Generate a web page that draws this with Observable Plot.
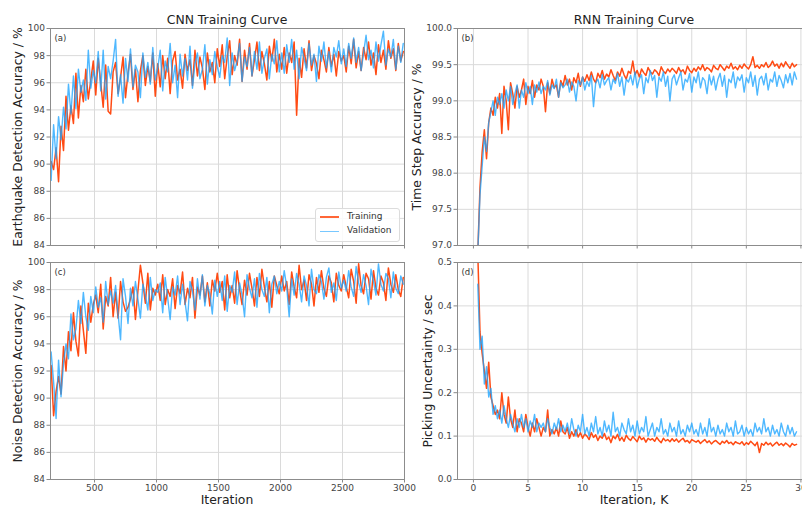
<!DOCTYPE html>
<html>
<head>
<meta charset="utf-8">
<script src="https://cdn.jsdelivr.net/npm/d3@7"></script>
<script src="https://cdn.jsdelivr.net/npm/@observablehq/plot@0.6"></script>
<style>
  html, body { margin: 0; padding: 0; background: #fff; overflow: hidden; }
  #root { position: relative; width: 802px; height: 507px; overflow: hidden; font-family: "DejaVu Sans", sans-serif; background: #fff; }
  .lbl { position: absolute; white-space: nowrap; color: #222; line-height: 1; transform: translate(-50%, -50%); }
  .rot { transform: translate(-50%, -50%) rotate(-90deg); }
  #legend { position: absolute; left: 315px; top: 208px; width: 85px; height: 34px; box-sizing: border-box;
            border: 1px solid #dcdcdc; border-radius: 3px; background: rgba(255,255,255,0.85); font-size: 9px; color: #333; }
  #legend .row { position: absolute; left: 0; height: 0; }
  #legend .sw { position: absolute; left: 4px; top: -1px; width: 19px; height: 1.8px; }
  #legend .tx { position: absolute; left: 31px; top: -5.5px; line-height: 1; white-space: nowrap; }
</style>
</head>
<body>
<div id="root"></div>
<script>
// ---------------- data ----------------
// CNN: iterations (x) sampled every 20 iterations from 150
const cnnIterStart = 150, cnnIterStep = 20, cnnIterCount = 143;
// RNN: iterations in thousands, every 0.2 K from 0.4 K
const rnnIterStart = 0.4, rnnIterStep = 0.2, rnnIterCount = 147;

// (a) Earthquake detection accuracy, %
const cnnEqTrain = [
  90.2, 89.6, 91.2, 88.7, 92.8, 91.0, 95.0, 92.5, 94.3, 93.0, 96.7, 93.4, 95.8, 94.6, 97.0, 94.8, 96.2, 97.6,
  95.1, 97.8, 96.0, 94.2, 97.3, 93.9, 93.7, 96.8, 97.5, 95.2, 96.4, 97.9, 94.9, 96.7, 98.1, 95.5, 97.0, 94.6, 96.9, 98.0, 95.8, 97.2, 96.1, 98.2, 95.0,
  97.4, 95.7, 98.0, 96.3, 97.8, 95.2, 97.6, 98.3, 96.2, 97.0, 95.6, 98.1, 96.9, 97.7, 95.8, 98.4, 96.5, 97.9, 97.1, 95.5, 98.2, 96.8, 97.5, 96.0, 98.5,
  97.2, 98.8, 96.3, 97.9, 99.1, 96.6, 98.0, 97.3, 99.2, 96.1, 98.4, 97.0, 98.9, 96.5, 97.7, 99.0, 96.9, 98.3, 97.4, 96.2, 98.7, 97.6, 99.2, 96.8, 98.1,
  97.0, 98.6, 96.7, 98.2, 97.5, 99.0, 93.6, 97.8, 96.4, 98.5, 97.1, 99.1, 96.9, 98.0, 97.4, 96.3, 98.4, 97.7, 96.8, 98.6, 97.2, 98.1, 96.5, 98.3, 97.6,
  98.0, 96.8, 98.7, 97.4, 99.2, 97.1, 98.3, 96.9, 98.6, 97.7, 99.0, 97.3, 98.2, 96.6, 98.8, 97.5, 98.4, 97.0, 99.1, 97.8, 98.5, 96.9, 98.9, 97.6, 98.3
];
const cnnEqValid = [
  88.8, 92.9, 90.4, 93.5, 91.8, 94.2, 92.6, 95.9, 93.7, 96.5, 94.1, 97.0, 95.3, 96.2, 94.7, 98.4, 95.6, 96.9,
  96.0, 98.3, 95.4, 98.4, 94.8, 97.2, 96.3, 97.6, 99.2, 95.0, 96.6, 94.5, 97.8, 96.1, 98.5, 95.7, 97.3, 96.8, 94.9, 98.2, 96.4, 97.5, 95.9, 98.6, 96.2,
  97.1, 98.4, 95.4, 97.6, 96.8, 98.9, 96.0, 97.3, 94.9, 98.1, 96.5, 97.8, 96.2, 98.7, 95.6, 97.4, 98.2, 96.3, 97.0, 98.8, 95.9, 97.7, 96.6, 98.3, 97.2,
  96.4, 98.0, 97.5, 99.3, 95.8, 98.2, 96.9, 97.6, 98.9, 96.1, 97.9, 97.2, 98.6, 96.5, 98.3, 97.0, 99.0, 96.7, 97.8, 98.5, 96.3, 98.1, 97.4, 99.1, 96.8,
  98.2, 96.7, 98.8, 97.5, 99.2, 97.0, 98.4, 96.3, 98.6, 97.8, 96.9, 98.9, 97.3, 98.1, 96.1, 98.7, 97.6, 99.0, 97.1, 98.3, 96.8, 98.6, 97.9, 99.1, 97.4,
  98.5, 97.2, 98.9, 97.8, 99.3, 97.5, 98.6, 96.9, 98.2, 99.5, 97.7, 98.4, 97.1, 99.0, 97.6, 98.8, 99.8, 97.3, 98.5, 97.9, 99.2, 97.0, 98.7, 97.5, 98.9
];

// (c) Noise detection accuracy, %
const cnnNoiseTrain = [
  92.4, 88.7, 90.5, 91.6, 90.3, 93.8, 92.0, 94.9, 93.5, 96.3, 94.2, 93.1, 96.8, 95.0, 93.3, 97.0, 95.6, 96.9,
  97.6, 96.3, 98.4, 95.1, 97.5, 96.8, 98.9, 96.0, 97.8, 95.9, 98.6, 97.1, 96.4, 96.7, 97.3, 98.2, 95.8, 97.9, 99.8, 98.5, 97.0, 99.2, 96.5, 98.1, 97.6,
  98.4, 97.2, 99.1, 96.9, 98.0, 97.5, 98.8, 96.6, 98.3, 97.7, 99.3, 96.9, 98.1, 97.4, 98.9, 95.9, 98.2, 97.6, 99.0, 97.1, 98.5, 96.8, 98.7, 97.9, 99.2,
  97.8, 98.6, 96.5, 99.1, 97.4, 98.3, 97.0, 99.4, 98.0, 96.9, 98.7, 97.6, 99.2, 98.1, 96.8, 98.9, 97.5, 99.5, 98.2, 97.1, 98.6, 96.7, 99.0, 98.3, 97.7,
  99.0, 97.9, 98.6, 96.9, 99.3, 98.2, 97.4, 99.8, 98.0, 98.7, 97.2, 99.1, 98.4, 96.8, 98.9, 97.8, 99.4, 98.1, 97.5, 99.0, 98.5, 97.1, 99.2, 98.3, 97.9,
  99.1, 98.2, 97.4, 99.5, 98.6, 97.0, 99.9, 98.3, 97.7, 99.2, 98.8, 97.3, 99.4, 98.1, 97.6, 99.0, 98.5, 97.2, 99.6, 98.4, 97.8, 99.1, 98.0, 97.5, 98.9
];
const cnnNoiseValid = [
  93.4, 91.2, 88.5, 92.8, 90.1, 92.6, 94.0, 92.9, 96.2, 94.3, 95.1, 97.2, 95.5, 97.8, 96.0, 95.0, 97.5, 96.3,
  98.2, 96.7, 97.4, 95.6, 98.6, 96.9, 97.9, 97.0, 98.3, 96.2, 94.3, 98.8, 97.5, 95.5, 98.1, 96.8, 98.6, 97.3, 95.9, 98.4, 97.6, 96.5, 98.9, 97.2, 98.0,
  97.8, 98.5, 96.3, 98.9, 97.4, 95.8, 98.2, 97.6, 99.0, 96.9, 98.4, 97.1, 95.7, 98.6, 97.9, 96.5, 98.8, 97.3, 99.1, 96.8, 98.3, 97.7, 96.2, 98.7, 97.5,
  98.6, 97.2, 99.0, 96.4, 98.3, 97.8, 99.3, 96.9, 98.5, 97.6, 96.0, 99.1, 98.1, 97.4, 98.8, 96.7, 99.2, 98.0, 97.5, 98.9, 96.3, 98.4, 99.0, 97.7, 98.6,
  97.9, 99.4, 98.2, 96.0, 98.8, 97.6, 99.2, 98.4, 97.1, 99.0, 98.3, 96.8, 99.5, 98.0, 97.7, 99.1, 98.6, 97.3, 98.9, 99.6, 97.8, 98.5, 97.2, 99.3, 98.1,
  98.7, 97.9, 99.4, 98.2, 97.5, 99.7, 98.5, 97.8, 99.1, 98.3, 96.9, 99.5, 98.6, 97.6, 99.9, 98.4, 97.9, 99.2, 98.8, 97.4, 99.3, 98.1, 97.7, 99.0, 98.4
];

// (b) Time step accuracy, %
const rnnAccTrain = [
  96.9, 97.8, 98.3, 98.6, 98.2, 98.7, 98.9, 98.8, 99.05, 98.9,
  99.1, 98.55, 99.2, 99.0, 98.6, 99.25, 99.1, 98.9, 99.2, 99.05,
  99.15, 99.3, 98.95, 99.2, 99.1, 99.28, 99.05, 99.22, 99.15, 99.3,
  99.2, 98.85, 99.25, 99.1, 99.3, 99.18, 99.22, 99.05, 99.28, 99.2,
  99.35, 99.22, 99.3, 99.15, 99.32, 99.25, 99.38, 99.2, 99.33, 99.27,
  99.36, 99.28, 99.4, 99.3, 99.25, 99.38, 99.32, 99.42, 99.3, 99.37,
  99.33, 99.43, 99.35, 99.28, 99.4, 99.34, 99.45, 99.36, 99.3, 99.41,
  99.38, 99.55, 99.36, 99.42, 99.33, 99.44, 99.39, 99.35, 99.46, 99.4,
  99.37, 99.43, 99.4, 99.35, 99.47, 99.41, 99.38, 99.44, 99.4, 99.45,
  99.42, 99.38, 99.46, 99.4, 99.43, 99.37, 99.48, 99.42, 99.39, 99.45,
  99.41, 99.47, 99.43, 99.5, 99.42, 99.46, 99.44, 99.4, 99.49, 99.45,
  99.43, 99.5, 99.46, 99.42, 99.48, 99.45, 99.52, 99.44, 99.47, 99.43,
  99.49, 99.45, 99.51, 99.47, 99.44, 99.5, 99.61, 99.46, 99.49, 99.45,
  99.5, 99.47, 99.53, 99.46, 99.49, 99.55, 99.48, 99.51, 99.45, 99.52,
  99.47, 99.54, 99.49, 99.45, 99.52, 99.47, 99.5
];
const rnnAccValid = [
  96.9, 97.7, 98.1, 98.5, 98.3, 98.7, 98.85, 99.0, 98.8, 99.05,
  98.95, 99.1, 98.9, 99.15, 99.0, 99.2, 98.95, 99.1, 99.22, 98.9,
  99.15, 99.05, 99.25, 99.1, 99.2, 98.95, 99.22, 99.12, 99.26, 99.1,
  99.2, 99.15, 99.28, 99.08, 99.22, 99.17, 99.3, 99.05, 99.25, 99.18,
  99.22, 99.3, 99.12, 99.26, 99.2, 99.0, 99.28, 99.22, 99.33, 99.15,
  99.27, 99.2, 99.35, 98.92, 99.25, 99.3, 99.18, 99.36, 99.22, 99.28,
  99.32, 99.15, 99.3, 99.24, 99.38, 99.2, 99.33, 99.08, 99.3, 99.26,
  99.35, 99.22, 99.4, 99.18, 99.3, 99.36, 99.1, 99.32, 99.25, 99.42,
  99.28, 99.35, 99.05, 99.33, 99.27, 99.4, 99.2, 99.34, 99.0, 99.3,
  99.36, 99.22, 99.32, 99.4, 99.15, 99.3, 99.26, 99.38, 99.12, 99.33,
  99.25, 99.4, 99.18, 99.32, 99.28, 99.1, 99.36, 99.22, 99.34, 99.15,
  99.3, 99.38, 99.2, 99.35, 99.05, 99.3, 99.25, 99.4, 99.18, 99.33,
  99.28, 99.36, 99.12, 99.32, 99.25, 99.4, 99.2, 99.35, 99.08, 99.3,
  99.34, 99.22, 99.38, 99.15, 99.3, 99.26, 99.4, 99.2, 99.35, 99.28,
  99.18, 99.36, 99.25, 99.38, 99.22, 99.4, 99.3
];

// (d) Picking uncertainty, sec
const rnnPickTrain = [
  0.52, 0.34, 0.29, 0.25, 0.21, 0.27, 0.19, 0.17, 0.15, 0.16,
  0.14, 0.2, 0.15, 0.13, 0.19, 0.14, 0.12, 0.16, 0.11, 0.14,
  0.13, 0.11, 0.15, 0.12, 0.1, 0.13, 0.11, 0.14, 0.12, 0.1,
  0.12, 0.11, 0.16, 0.1, 0.115, 0.105, 0.12, 0.1, 0.135, 0.11,
  0.105, 0.12, 0.095, 0.11, 0.1, 0.115, 0.098, 0.108, 0.095, 0.105,
  0.1, 0.092, 0.108, 0.097, 0.103, 0.09, 0.1, 0.095, 0.106, 0.092,
  0.098, 0.085, 0.1, 0.094, 0.104, 0.09, 0.097, 0.088, 0.102, 0.094,
  0.09, 0.099, 0.093, 0.087, 0.1, 0.092, 0.096, 0.086, 0.095, 0.091,
  0.094, 0.088, 0.097, 0.09, 0.085, 0.095, 0.089, 0.092, 0.087, 0.094,
  0.088, 0.093, 0.086, 0.091, 0.095, 0.087, 0.09, 0.084, 0.092, 0.089,
  0.086, 0.09, 0.083, 0.088, 0.092, 0.085, 0.089, 0.082, 0.087, 0.09,
  0.085, 0.081, 0.088, 0.084, 0.09, 0.083, 0.086, 0.08, 0.087, 0.084,
  0.082, 0.087, 0.079, 0.085, 0.081, 0.088, 0.083, 0.078, 0.086, 0.062,
  0.083, 0.079, 0.086, 0.08, 0.084, 0.077, 0.082, 0.086, 0.079, 0.083,
  0.078, 0.084, 0.08, 0.075, 0.083, 0.079, 0.081
];
const rnnPickValid = [
  0.45, 0.3, 0.33, 0.22, 0.26, 0.19, 0.21, 0.15, 0.17, 0.14,
  0.16, 0.13, 0.17, 0.14, 0.12, 0.15, 0.13, 0.11, 0.14, 0.12,
  0.15, 0.12, 0.14, 0.11, 0.135, 0.12, 0.15, 0.11, 0.13, 0.12,
  0.13, 0.11, 0.14, 0.12, 0.105, 0.13, 0.115, 0.14, 0.11, 0.125,
  0.11, 0.13, 0.105, 0.14, 0.115, 0.1, 0.125, 0.11, 0.15, 0.105,
  0.12, 0.1, 0.13, 0.11, 0.145, 0.105, 0.12, 0.1, 0.135, 0.11,
  0.125, 0.1, 0.155, 0.11, 0.12, 0.1, 0.13, 0.115, 0.105, 0.14,
  0.11, 0.125, 0.1, 0.135, 0.105, 0.12, 0.11, 0.145, 0.1, 0.115,
  0.13, 0.1, 0.12, 0.11, 0.14, 0.105, 0.115, 0.1, 0.13, 0.11,
  0.12, 0.1, 0.135, 0.105, 0.115, 0.1, 0.125, 0.11, 0.13, 0.105,
  0.115, 0.1, 0.13, 0.105, 0.12, 0.1, 0.14, 0.11, 0.12, 0.1,
  0.125, 0.105, 0.115, 0.1, 0.13, 0.11, 0.12, 0.1, 0.135, 0.105,
  0.11, 0.125, 0.1, 0.12, 0.105, 0.115, 0.1, 0.13, 0.11, 0.12,
  0.105, 0.14, 0.11, 0.12, 0.1, 0.125, 0.105, 0.115, 0.1, 0.13,
  0.11, 0.1, 0.125, 0.105, 0.12, 0.1, 0.11
];

// tick values
const cnnXTicks = [500, 1000, 1500, 2000, 2500, 3000];
const rnnXTicks = [0, 5, 10, 15, 20, 25, 30];
const accYTicks = [84, 86, 88, 90, 92, 94, 96, 98, 100];
const stepYTicks = [97.0, 97.5, 98.0, 98.5, 99.0, 99.5, 100.0];
const pickYTicks = [0.0, 0.1, 0.2, 0.3, 0.4, 0.5];

const seriesNames = ["Training", "Validation"];
const titles = ["CNN Training Curve", "RNN Training Curve"];

// ---------------- drawing ----------------
const ORANGE = "#ff4b14", BLUE = "#1ea4ff";
const cnnIters = d3.range(cnnIterCount).map(i => cnnIterStart + i * cnnIterStep);
const rnnIters = d3.range(rnnIterCount).map(i => +(rnnIterStart + i * rnnIterStep).toFixed(1));

const root = document.getElementById("root");

function panel(o) {
  const rows = o.xs.map((x, i) => ({x, train: o.train[i], valid: o.valid[i]}));
  const chart = Plot.plot({
    width: o.w, height: o.h,
    marginLeft: o.ml, marginRight: o.mr, marginTop: o.mt, marginBottom: o.mb,
    style: {fontFamily: "'DejaVu Sans', sans-serif", fontSize: "9px", background: "transparent", overflow: "visible", maxWidth: "none"},
    x: {domain: o.xDomain, label: null},
    y: {domain: o.yDomain, label: null},
    marks: [
      Plot.gridX(o.xTicks, {stroke: "#dadada", strokeOpacity: 1}),
      Plot.gridY(o.yTicks, {stroke: "#dadada", strokeOpacity: 1}),
      Plot.line(rows, {x: "x", y: "train", stroke: ORANGE, strokeWidth: 1.5, clip: true}),
      Plot.line(rows, {x: "x", y: "valid", stroke: BLUE, strokeWidth: 1.4, strokeOpacity: 0.78, clip: true}),
      Plot.axisX(o.xTicks, {tickSize: 3.5, tickPadding: 2, tickFormat: o.showX ? (d => String(d)) : (() => ""), stroke: "#888", fill: "#444", label: null}),
      Plot.axisY(o.yTicks, {tickSize: 3.5, tickPadding: 2, tickFormat: o.yFmt, stroke: "#888", fill: "#444", label: null}),
      Plot.frame({stroke: "#8c8c8c"}),
      Plot.text([o.tag], {text: d => d, frameAnchor: "top-left", dx: 4, dy: 6, fontSize: 8.5, fill: "#333"})
    ]
  });
  chart.style.position = "absolute";
  chart.style.left = o.left + "px";
  chart.style.top = o.top + "px";
  root.appendChild(chart);
}

const fInt = d => String(d);
const f1 = d => d.toFixed(1);

panel({left: 0, top: 0, w: 420, h: 255, ml: 50, mr: 16, mt: 28, mb: 10,
  xs: cnnIters, train: cnnEqTrain, valid: cnnEqValid, xDomain: [145, 3000], yDomain: [84, 100],
  xTicks: cnnXTicks, yTicks: accYTicks, yFmt: fInt, showX: false, tag: "(a)"});
panel({left: 0, top: 255, w: 420, h: 252, ml: 50, mr: 16, mt: 7, mb: 28,
  xs: cnnIters, train: cnnNoiseTrain, valid: cnnNoiseValid, xDomain: [145, 3000], yDomain: [84, 100],
  xTicks: cnnXTicks, yTicks: accYTicks, yFmt: fInt, showX: true, tag: "(c)"});
panel({left: 400, top: 0, w: 420, h: 255, ml: 57, mr: 9, mt: 28, mb: 10,
  xs: rnnIters, train: rnnAccTrain, valid: rnnAccValid, xDomain: [-1.46, 30.97], yDomain: [97, 100],
  xTicks: rnnXTicks, yTicks: stepYTicks, yFmt: f1, showX: false, tag: "(b)"});
panel({left: 400, top: 255, w: 420, h: 252, ml: 57, mr: 9, mt: 7, mb: 28,
  xs: rnnIters, train: rnnPickTrain, valid: rnnPickValid, xDomain: [-1.46, 30.97], yDomain: [0, 0.5],
  xTicks: rnnXTicks, yTicks: pickYTicks, yFmt: f1, showX: true, tag: "(d)"});

// text labels
function label(text, x, y, size, rotate) {
  const d = document.createElement("div");
  d.className = "lbl" + (rotate ? " rot" : "");
  d.textContent = text;
  d.style.left = x + "px";
  d.style.top = y + "px";
  d.style.fontSize = size + "px";
  root.appendChild(d);
}
label(titles[0], 227, 20, 12.4);
label(titles[1], 634, 20, 12.4);
label("Iteration", 227, 500, 12.4);
label("Iteration, K", 634, 500, 12.4);
label("Earthquake Detection Accuracy / %", 17.5, 136.5, 12.4, true);
label("Noise Detection Accuracy / %", 17.5, 370.5, 12.4, true);
label("Time Step Accuracy / %", 417, 136.5, 12.4, true);
label("Picking Uncertainty / sec", 428, 370.5, 12.4, true);

// legend in panel (a)
const lg = document.createElement("div");
lg.id = "legend";
[[seriesNames[0], ORANGE, 0.85, 8], [seriesNames[1], BLUE, 0.6, 22.5]].forEach(([name, col, op, y]) => {
  const r = document.createElement("div");
  r.className = "row";
  r.style.top = y + "px";
  const sw = document.createElement("div");
  sw.className = "sw";
  sw.style.backgroundColor = col;
  sw.style.opacity = op;
  const tx = document.createElement("div");
  tx.className = "tx";
  tx.textContent = name;
  r.appendChild(sw);
  r.appendChild(tx);
  lg.appendChild(r);
});
root.appendChild(lg);
</script>
</body>
</html>
